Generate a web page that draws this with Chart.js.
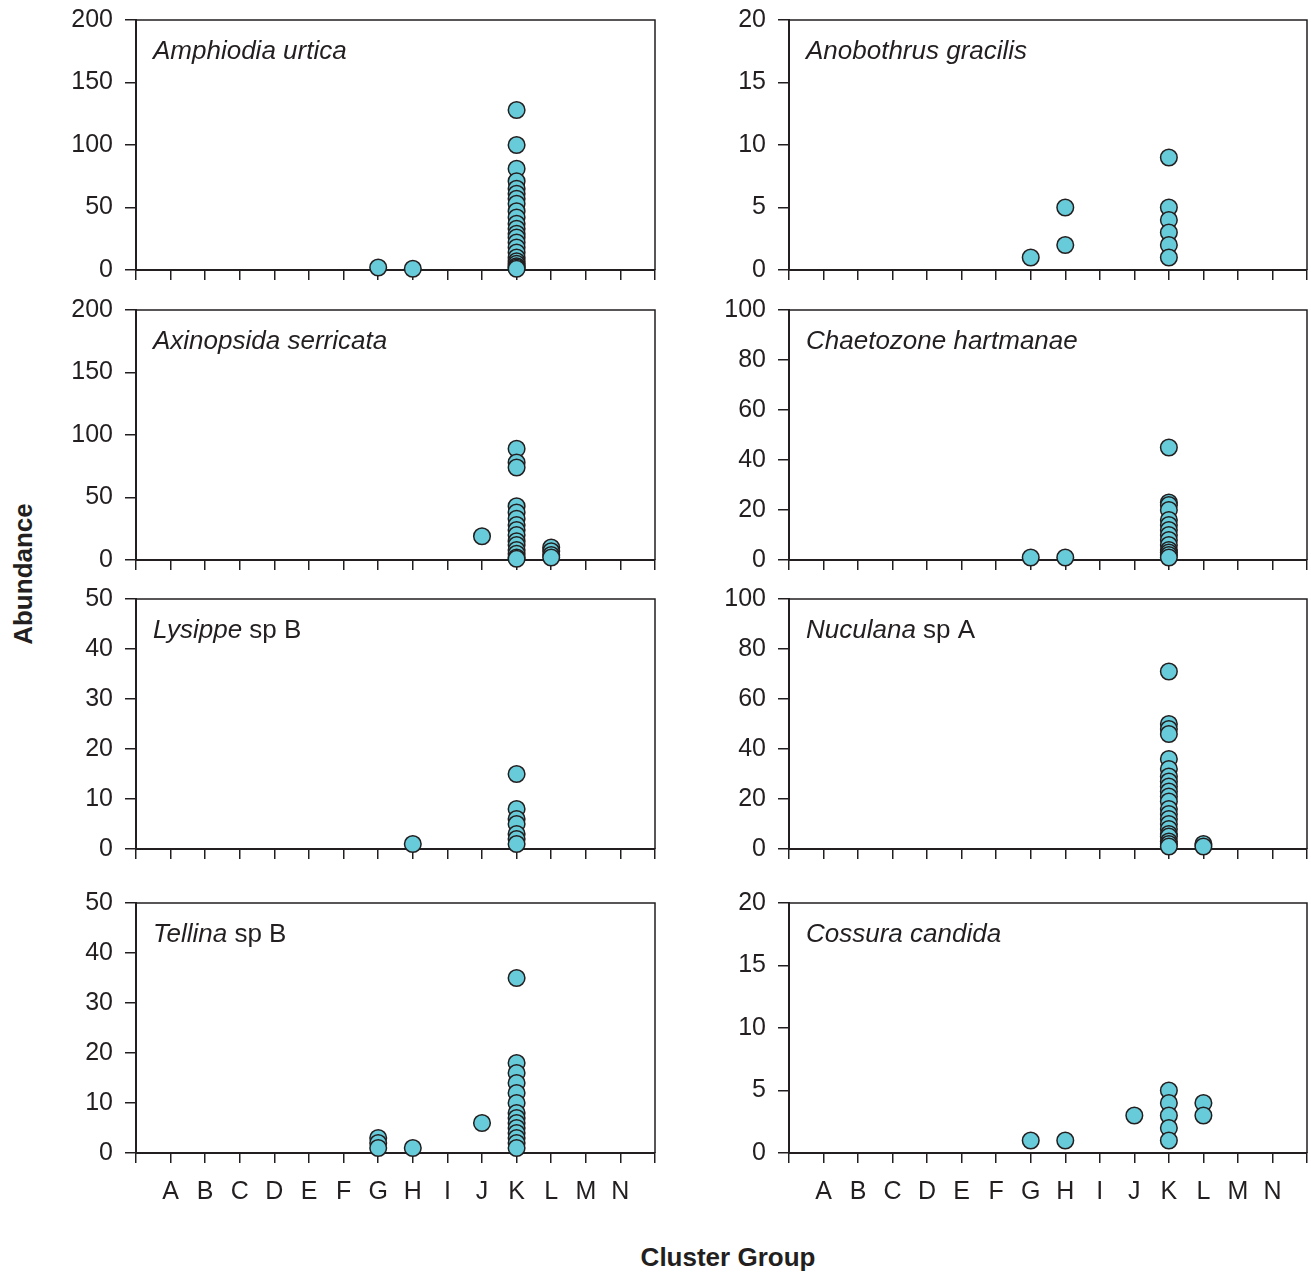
<!DOCTYPE html>
<html>
<head>
<meta charset="utf-8">
<script src="https://cdn.jsdelivr.net/npm/chart.js"></script>
<style>
  body { margin: 0; background: #fff; width: 1311px; height: 1272px; overflow: hidden; position: relative; }
  .panel { position: absolute; }
  .ylab { position: absolute; left: 23px; top: 574px; transform: translate(-50%, -50%) rotate(-90deg);
          font: bold 26px "Liberation Sans", Arial, sans-serif; color: #231f20; white-space: nowrap; }
  .xlab { position: absolute; left: 728px; top: 1257px; transform: translate(-50%, -50%);
          font: bold 26px "Liberation Sans", Arial, sans-serif; color: #231f20; white-space: nowrap; }
</style>
</head>
<body>
<div class="ylab">Abundance</div>
<div class="xlab">Cluster Group</div>
<script>
const clusters = ["A", "B", "C", "D", "E", "F", "G", "H", "I", "J", "K", "L", "M", "N"];

// abundance per station, grouped by cluster
const amphiodiaUrtica = {
  G: [2],
  H: [1],
  K: [128, 100, 81, 71, 65, 61, 57, 53, 47, 42, 37, 33, 29, 26, 22, 18, 14, 10, 7, 5, 3, 2, 1]
};
const anobothrusGracilis = {
  G: [1],
  H: [5, 2],
  K: [9, 5, 4, 3, 2, 1]
};
const axinopsidaSerricata = {
  J: [19],
  K: [89, 78, 74, 43, 38, 33, 28, 24, 20, 15, 12, 8, 5, 2, 1],
  L: [10, 7, 4, 2]
};
const chaetozoneHartmanae = {
  G: [1],
  H: [1],
  K: [45, 23, 22, 20, 16, 14, 12, 10, 8, 6, 4, 3, 2, 1]
};
const lysippeSpB = {
  H: [1],
  K: [15, 8, 6, 5, 3, 2, 1]
};
const nuculanaSpA = {
  K: [71, 50, 48, 46, 36, 32, 29, 27, 25, 23, 21, 19, 16, 14, 12, 10, 8, 6, 5, 3, 2, 1],
  L: [2, 1]
};
const tellinaSpB = {
  G: [3, 2, 1],
  H: [1],
  J: [6],
  K: [35, 18, 16, 14, 12, 10, 8, 7, 6, 5, 4, 3, 2, 1]
};
const cossuraCandida = {
  G: [1],
  H: [1],
  J: [3],
  K: [5, 4, 3, 2, 1],
  L: [4, 3]
};

const yMax = [200, 20, 200, 100, 50, 100, 50, 20];
const yStep = [50, 5, 50, 20, 10, 20, 10, 5];

const panels = [
  { data: amphiodiaUrtica, italic: "Amphiodia urtica", plain: "" },
  { data: anobothrusGracilis, italic: "Anobothrus gracilis", plain: "" },
  { data: axinopsidaSerricata, italic: "Axinopsida serricata", plain: "" },
  { data: chaetozoneHartmanae, italic: "Chaetozone hartmanae", plain: "" },
  { data: lysippeSpB, italic: "Lysippe", plain: " sp B" },
  { data: nuculanaSpA, italic: "Nuculana", plain: " sp A" },
  { data: tellinaSpB, italic: "Tellina", plain: " sp B" },
  { data: cossuraCandida, italic: "Cossura candida", plain: "" }
];

const rowTops = [20, 310, 599, 903];
const ink = "#231f20";
const fontFamily = '"Liberation Sans", Arial, sans-serif';

// frame on top/right + species name in the corner
const speciesLabel = {
  id: "speciesLabel",
  beforeDatasetsDraw(chart) {
    const a = chart.chartArea;
    const ctx = chart.ctx;
    ctx.save();
    ctx.strokeStyle = ink;
    ctx.lineWidth = 1.5;
    ctx.beginPath();
    ctx.moveTo(a.left, a.top);
    ctx.lineTo(a.right, a.top);
    ctx.lineTo(a.right, a.bottom);
    ctx.stroke();
    ctx.restore();
  },
  afterDraw(chart, args, opts) {
    const a = chart.chartArea;
    const ctx = chart.ctx;
    ctx.save();
    ctx.fillStyle = ink;
    ctx.textBaseline = "alphabetic";
    let x = a.left + 17;
    const y = a.top + 39;
    ctx.font = "italic 26px " + fontFamily;
    ctx.fillText(opts.italic, x, y);
    x += ctx.measureText(opts.italic).width;
    if (opts.plain) {
      ctx.font = "26px " + fontFamily;
      ctx.fillText(opts.plain, x, y);
    }
    ctx.restore();
  }
};

panels.forEach((p, i) => {
  const row = Math.floor(i / 2);
  const col = i % 2;
  const bottomRow = row === 3;

  const div = document.createElement("div");
  div.className = "panel";
  const left = col === 0 ? 30 : 683;
  const width = col === 0 ? 627 : 626;
  const height = bottomRow ? 330 : 290;
  div.style.left = left + "px";
  div.style.top = (rowTops[row] - 15) + "px";
  div.style.width = width + "px";
  div.style.height = height + "px";
  const canvas = document.createElement("canvas");
  div.appendChild(canvas);
  document.body.appendChild(div);

  const points = [];
  Object.keys(p.data).forEach(c => {
    p.data[c].forEach(v => points.push({ x: clusters.indexOf(c) + 1, y: v }));
  });

  new Chart(canvas, {
    type: "scatter",
    data: {
      datasets: [{
        data: points,
        backgroundColor: "#68cbd9",
        borderColor: ink,
        borderWidth: 1.5,
        pointRadius: 8.3,
        clip: false
      }]
    },
    plugins: [speciesLabel],
    options: {
      responsive: true,
      maintainAspectRatio: false,
      animation: false,
      layout: { autoPadding: false, padding: { top: 15, right: 2, bottom: 5, left: 0 } },
      plugins: {
        legend: { display: false },
        tooltip: { enabled: false },
        speciesLabel: { italic: p.italic, plain: p.plain }
      },
      scales: {
        x: {
          type: "linear",
          min: 0,
          max: 15,
          // fixed size so all panels line up
          afterFit: s => {
            s.height = bottomRow ? 60 : 20;
            s.paddingLeft = 0;
            s.paddingRight = 0;
          },
          border: { display: true, color: ink, width: 2 },
          grid: { drawOnChartArea: false, drawTicks: true, tickLength: 10, color: ink, lineWidth: 1.5 },
          ticks: {
            stepSize: 1,
            autoSkip: false,
            maxRotation: 0,
            padding: 14,
            color: ink,
            font: { family: fontFamily, size: 25 },
            callback: v => (bottomRow && v >= 1 && v <= 14) ? clusters[v - 1] : ""
          }
        },
        y: {
          min: 0,
          max: yMax[i],
          afterFit: s => {
            s.width = 106;
            s.paddingTop = 0;
            s.paddingBottom = 0;
          },
          border: { display: true, color: ink, width: 2 },
          grid: { drawOnChartArea: false, drawTicks: true, tickLength: 11, color: ink, lineWidth: 1.5 },
          ticks: {
            stepSize: yStep[i],
            padding: 12,
            color: ink,
            font: { family: fontFamily, size: 25 }
          }
        }
      }
    }
  });
});
</script>
</body>
</html>
